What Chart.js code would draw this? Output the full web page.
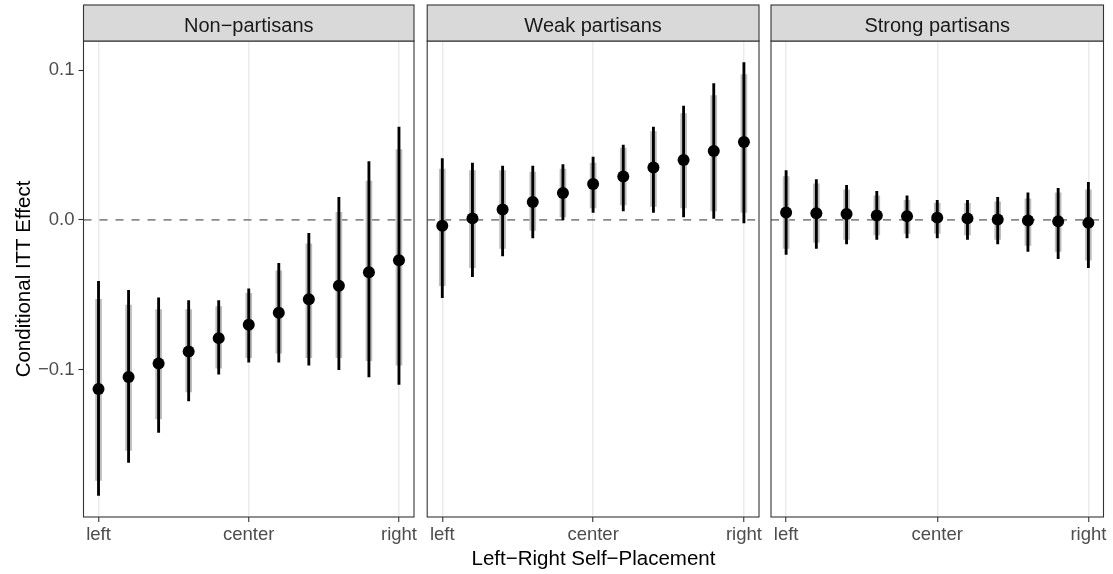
<!DOCTYPE html>
<html>
<head>
<meta charset="utf-8">
<title>Conditional ITT Effect by Left-Right Self-Placement</title>
<script src="https://cdn.jsdelivr.net/npm/chart.js@4.4.1/dist/chart.umd.min.js"></script>
<style>
  html, body { margin: 0; padding: 0; background: #ffffff; }
  #wrap { position: relative; width: 1113px; height: 574px; overflow: hidden; }
  #wrap canvas { position: absolute; top: 0; }
  #xTitle {
    position: absolute; left: 83.5px; width: 1020px; top: 546px;
    text-align: center; font: 20.5px "Liberation Sans", Arial, sans-serif;
    line-height: 24px; color: #000000;
  }
</style>
</head>
<body>
<div id="wrap">
  <canvas id="panel-np" width="420" height="574" style="left:0px"></canvas>
  <canvas id="panel-weak" width="345" height="574" style="left:420px"></canvas>
  <canvas id="panel-strong" width="348" height="574" style="left:765px"></canvas>
  <div id="xTitle">Left−Right Self−Placement</div>
</div>
<script>
// --- data ---
const placement = [0, 1, 2, 3, 4, 5, 6, 7, 8, 9, 10];
const xTickValues = [0, 5, 10];
const xTickLabels = ['left', 'center', 'right'];
const yTickValues = [-0.1, 0, 0.1];
const panelNames = ['Non−partisans', 'Weak partisans', 'Strong partisans'];

// Non-partisans
const npEst  = [-0.113, -0.105, -0.096, -0.088, -0.079, -0.070, -0.062, -0.053, -0.044, -0.035, -0.027];
const npLo95 = [-0.184, -0.162, -0.142, -0.121, -0.103, -0.095, -0.095, -0.097, -0.100, -0.105, -0.110];
const npHi95 = [-0.041, -0.047, -0.052, -0.054, -0.054, -0.046, -0.029, -0.009, 0.015, 0.039, 0.062];
const npLo90 = [-0.174, -0.154, -0.133, -0.115, -0.099, -0.092, -0.089, -0.092, -0.092, -0.094, -0.097];
const npHi90 = [-0.053, -0.057, -0.060, -0.060, -0.058, -0.049, -0.034, -0.016, 0.005, 0.026, 0.047];

// Weak partisans
const weakEst  = [-0.004, 0.001, 0.007, 0.012, 0.018, 0.024, 0.029, 0.035, 0.040, 0.046, 0.052];
const weakLo95 = [-0.052, -0.038, -0.024, -0.012, -0.000, 0.005, 0.006, 0.005, 0.002, 0.001, -0.002];
const weakHi95 = [0.041, 0.038, 0.036, 0.036, 0.037, 0.042, 0.050, 0.062, 0.076, 0.091, 0.105];
const weakLo90 = [-0.044, -0.032, -0.019, -0.007, 0.002, 0.008, 0.010, 0.009, 0.008, 0.006, 0.005];
const weakHi90 = [0.034, 0.033, 0.033, 0.032, 0.034, 0.038, 0.048, 0.059, 0.071, 0.083, 0.097];

// Strong partisans
const strongEst  = [0.005, 0.0045, 0.004, 0.003, 0.0025, 0.0015, 0.001, 0.0002, -0.0004, -0.001, -0.002];
const strongLo95 = [-0.023, -0.019, -0.016, -0.013, -0.012, -0.012, -0.013, -0.016, -0.021, -0.026, -0.032];
const strongHi95 = [0.033, 0.027, 0.023, 0.019, 0.016, 0.013, 0.013, 0.015, 0.018, 0.021, 0.025];
const strongLo90 = [-0.019, -0.015, -0.013, -0.010, -0.009, -0.009, -0.010, -0.013, -0.017, -0.021, -0.027];
const strongHi90 = [0.029, 0.024, 0.020, 0.016, 0.013, 0.011, 0.011, 0.012, 0.014, 0.018, 0.020];

// shared y range across facets
const yMin = -0.1985;
const yMax = 0.1195;

const FONT = '"Liberation Sans", Arial, sans-serif';

// dashed zero reference, panel frame and facet strip
const facetPlugin = {
    id: 'facet',
    beforeDatasetsDraw(chart) {
        const { ctx, chartArea: a, scales } = chart;
        const y0 = scales.y.getPixelForValue(0);
        ctx.save();
        ctx.beginPath();
        ctx.rect(a.left, a.top, a.right - a.left, a.bottom - a.top);
        ctx.clip();
        ctx.strokeStyle = '#7f7f7f';
        ctx.lineWidth = 1.6;
        ctx.setLineDash([8, 8]);
        ctx.beginPath();
        ctx.moveTo(a.left, y0);
        ctx.lineTo(a.right, y0);
        ctx.stroke();
        ctx.restore();
    },
    afterDraw(chart, args, opts) {
        const { ctx, chartArea: a } = chart;
        const stripTop = 5;
        ctx.save();
        ctx.strokeStyle = '#333333';
        ctx.lineWidth = 1.1;
        ctx.strokeRect(a.left, a.top, a.right - a.left, a.bottom - a.top);

        ctx.fillStyle = '#d9d9d9';
        ctx.fillRect(a.left, stripTop, a.right - a.left, a.top - stripTop);
        ctx.strokeRect(a.left, stripTop, a.right - a.left, a.top - stripTop);

        ctx.fillStyle = '#1a1a1a';
        ctx.font = `20px ${FONT}`;
        ctx.textAlign = 'center';
        ctx.textBaseline = 'alphabetic';
        ctx.fillText(opts.label, (a.left + a.right) / 2, 31.5);
        ctx.restore();
    }
};

function buildDatasets(est, lo95, hi95, lo90, hi90) {
    return [
        {
            type: 'scatter',
            data: placement.map((x, i) => ({ x, y: est[i] })),
            backgroundColor: '#000000',
            borderWidth: 0,
            pointRadius: 6,
            order: 0
        },
        {
            type: 'bar',
            data: placement.map((x, i) => ({ x, y: [lo95[i], hi95[i]] })),
            backgroundColor: '#000000',
            barThickness: 2.2,
            maxBarThickness: 2.2,
            grouped: false,
            borderWidth: 0,
            order: 1
        },
        {
            type: 'bar',
            data: placement.map((x, i) => ({ x, y: [lo90[i], hi90[i]] })),
            backgroundColor: '#bdbdbd',
            barThickness: 6,
            maxBarThickness: 6,
            grouped: false,
            borderWidth: 0,
            order: 2
        }
    ];
}

function renderPanel(canvasId, label, datasets, padding, showY) {
    const canvas = document.getElementById(canvasId);
    const ctx = canvas.getContext('2d');
    return new Chart(ctx, {
        type: 'bar',
        data: { datasets },
        plugins: [facetPlugin],
        options: {
            responsive: false,
            animation: false,
            devicePixelRatio: 1,
            events: [],
            layout: { padding },
            plugins: {
                legend: { display: false },
                tooltip: { enabled: false },
                facet: { label }
            },
            scales: {
                x: {
                    type: 'linear',
                    min: -0.5,
                    max: 10.5,
                    offset: false,
                    afterBuildTicks: s => { s.ticks = xTickValues.map(v => ({ value: v })); },
                    afterFit: s => { s.height = 57; s.paddingLeft = 0; s.paddingRight = 0; },
                    grid: {
                        offset: false,
                        color: '#ebebeb',
                        lineWidth: 1.5,
                        tickColor: '#333333',
                        tickWidth: 1.1,
                        tickLength: 5
                    },
                    border: { display: false },
                    ticks: {
                        padding: 2,
                        maxRotation: 0,
                        color: '#4d4d4d',
                        font: { family: FONT, size: 18.5 },
                        callback: v => xTickLabels[xTickValues.indexOf(v)]
                    }
                },
                y: {
                    type: 'linear',
                    display: showY,
                    min: yMin,
                    max: yMax,
                    afterBuildTicks: s => { s.ticks = yTickValues.map(v => ({ value: v })); },
                    afterFit: s => {
                        s.width = showY ? 83.5 : 0;
                        s.paddingTop = 0;
                        s.paddingBottom = 0;
                    },
                    grid: {
                        drawOnChartArea: false,
                        tickColor: '#333333',
                        tickWidth: 1.1,
                        tickLength: 5
                    },
                    border: { display: false },
                    ticks: {
                        padding: 4,
                        color: '#4d4d4d',
                        font: { family: FONT, size: 18.5 },
                        callback: v => v.toFixed(1).replace('-', '\u2212')
                    },
                    title: {
                        display: true,
                        text: 'Conditional ITT Effect',
                        color: '#000000',
                        font: { family: FONT, size: 20.5 },
                        padding: { top: 12, bottom: 0 }
                    }
                }
            }
        }
    });
}

renderPanel('panel-np', panelNames[0],
    buildDatasets(npEst, npLo95, npHi95, npLo90, npHi90),
    { top: 41, right: 3.8, bottom: 0, left: 0 }, true);
renderPanel('panel-weak', panelNames[1],
    buildDatasets(weakEst, weakLo95, weakHi95, weakLo90, weakHi90),
    { top: 41, right: 5.2, bottom: 0, left: 7.2 }, false);
renderPanel('panel-strong', panelNames[2],
    buildDatasets(strongEst, strongLo95, strongHi95, strongLo90, strongHi90),
    { top: 41, right: 9.5, bottom: 0, left: 5.8 }, false);
</script>
</body>
</html>
